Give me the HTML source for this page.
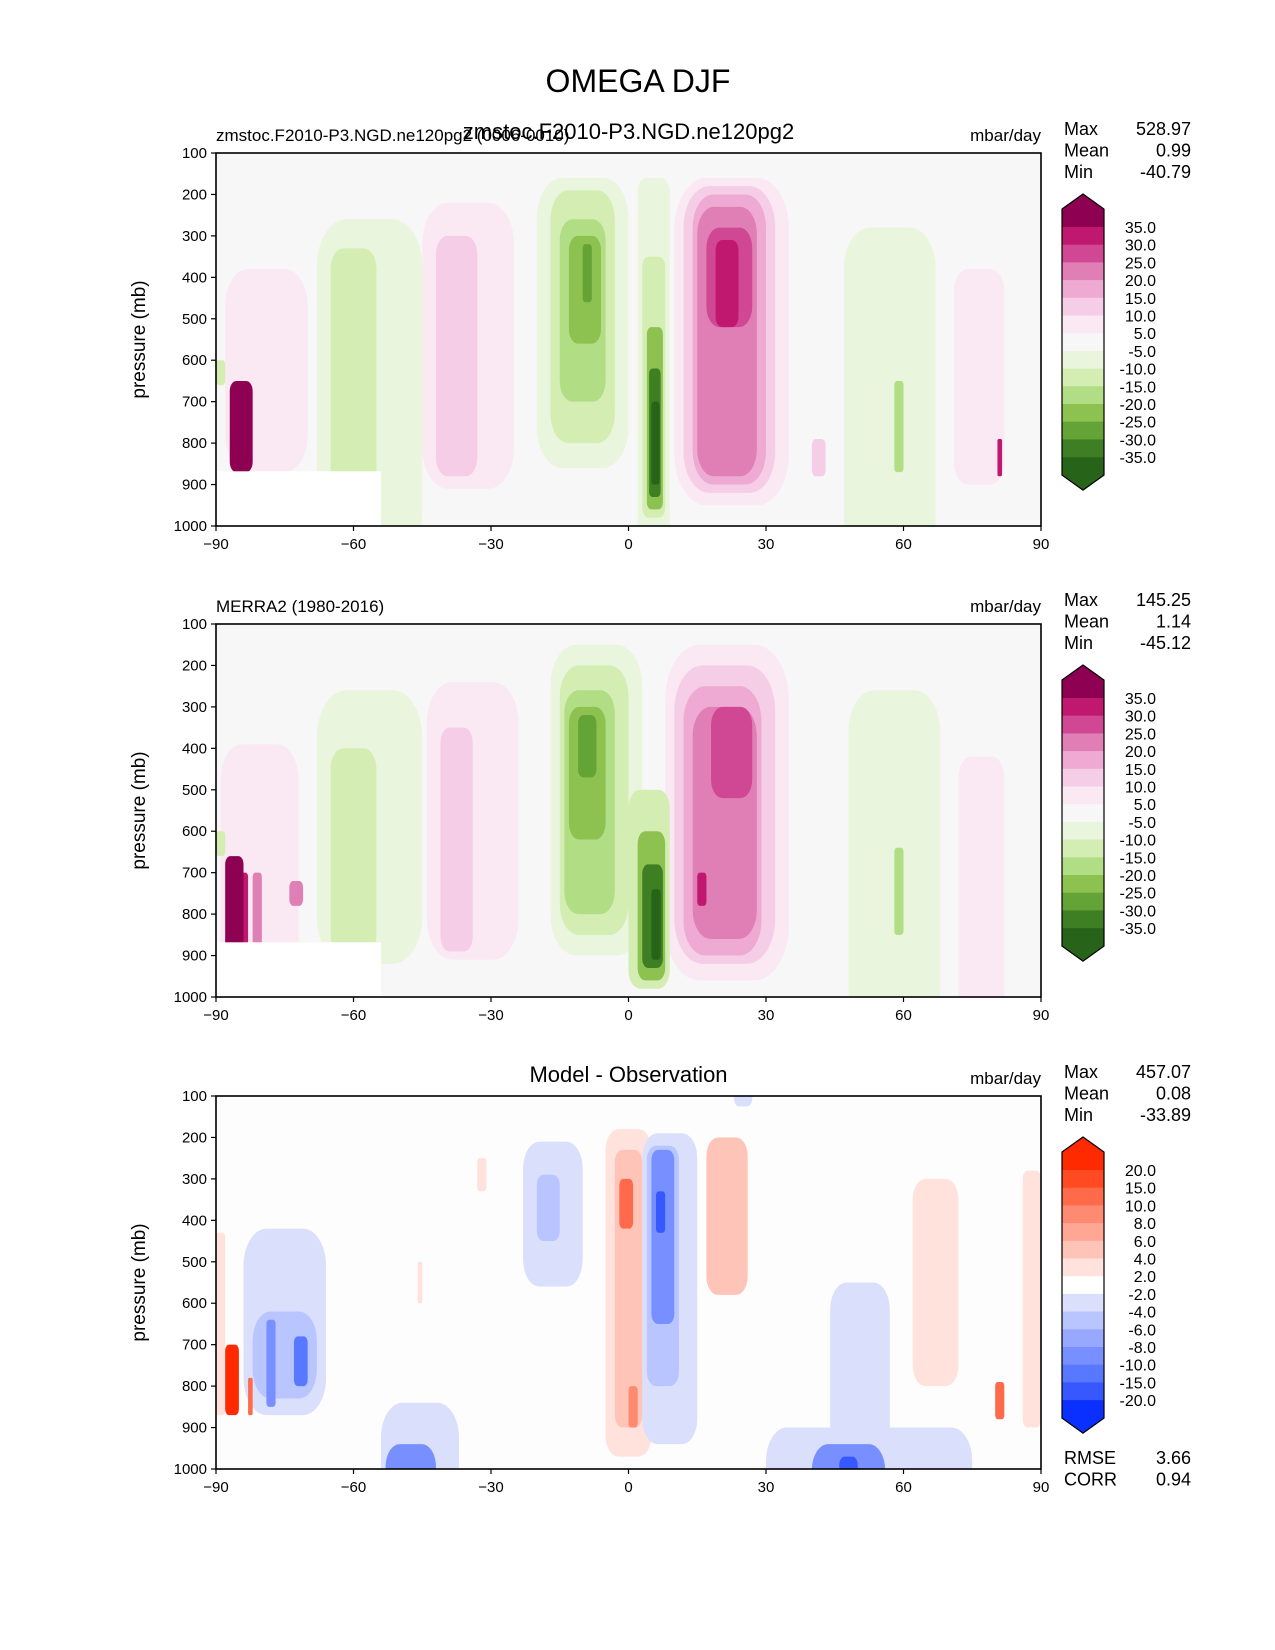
<!DOCTYPE html>
<html><head><meta charset="utf-8">
<style>
html,body{margin:0;padding:0;background:#fff;}
svg{display:block;font-family:"Liberation Sans","DejaVu Sans",sans-serif;}
</style></head>
<body>
<svg id="fig" width="1275" height="1650" viewBox="0 0 1275 1650" xmlns="http://www.w3.org/2000/svg">
<text x="638" y="92" font-size="32" text-anchor="middle">OMEGA DJF</text>
</svg>
<script>
// ---------- data ----------
const xTicks = [-90,-60,-30,0,30,60,90];
const yTicks = [100,200,300,400,500,600,700,800,900,1000];
const fieldBounds = [35,30,25,20,15,10,5,-5,-10,-15,-20,-25,-30,-35];
const fieldColors = ['#8e0152','#c0186f','#d04893','#e07fb5','#eeaad3','#f6cde6','#fae8f2','#f7f7f7','#e9f5dc','#d3edb3','#b1dd85','#8dc150','#64a336','#3e7f23','#276419'];
const diffBounds = [20,15,10,8,6,4,2,-2,-4,-6,-8,-10,-15,-20];
const diffColors = ['#ff2a00','#ff4a22','#ff6a4a','#ff8a72','#ffa694','#ffc4b8','#ffe2dc','#ffffff','#dadffc','#b9c5ff','#98a8ff','#7890ff','#5878ff','#3858ff','#0a30ff'];
// blobs: [lat0, lat1, p0, p1, value]
const modelBlobs = [
 [-88,-70,380,870,7],[-90,-88,600,660,-12],[-87,-82,650,870,40],[-85,-83,700,860,32],
 [-68,-45,260,1000,-7],[-65,-55,330,920,-12],
 [-45,-25,220,910,7],[-42,-33,300,880,12],
 [-20,0,160,860,-7],[-17,-3,190,800,-12],[-15,-5,260,700,-17],[-13,-6,300,560,-22],[-10,-8,320,460,-27],
 [2,9,160,1000,-7],[3,8,350,980,-12],[4,7.5,520,960,-22],[4.5,7,620,930,-32],[5,6.8,700,900,-40],
 [10,35,160,950,7],[12,32,180,920,12],[14,30,200,900,17],[15,28,230,880,22],[17,27,280,520,27],[19,24,310,520,32],
 [47,67,280,1000,-7],[58,60,650,870,-17],
 [71,82,380,900,7],[80.5,81.5,790,880,32],[40,43,790,880,12]
];
const obsBlobs = [
 [-89,-72,390,1000,7],[-90,-88,600,660,-12],[-88,-84,660,1000,40],[-85,-83,700,980,32],[-82,-80,700,950,22],[-74,-71,720,780,22],
 [-68,-45,260,920,-7],[-65,-55,400,900,-12],
 [-44,-24,240,910,7],[-41,-34,350,890,12],
 [-17,3,150,900,-7],[-15,0,200,850,-12],[-14,-3,260,800,-17],[-13,-5,300,620,-22],[-11,-7,320,470,-27],
 [0,9,500,980,-12],[2,8,600,960,-22],[3,7.5,680,930,-32],[5,7,740,910,-40],
 [8,35,150,960,7],[10,32,200,920,12],[12,29,250,900,17],[14,28,300,860,22],[18,27,300,520,27],[15,17,700,780,32],
 [48,68,260,1000,-7],[58,60,640,850,-17],
 [72,82,420,1000,7]
];
const diffBlobs = [
 [-90,-88,430,870,3],[-84,-66,420,870,-3],[-82,-68,620,830,-5],[-79,-77,640,850,-9],[-73,-70,680,800,-12],
 [-88,-85,700,870,25],[-83,-82,780,870,12],
 [-54,-37,840,1000,-3],[-53,-42,940,1000,-9],
 [-23,-10,210,560,-3],[-20,-15,290,450,-5],
 [-5,5,180,970,3],[-3,3,230,900,5],[-2,1,300,420,12],[0,2,800,900,9],
 [3,15,190,940,-3],[4,11,220,800,-5],[5,10,230,650,-9],[6,8,330,430,-18],
 [17,26,200,580,5],
 [30,75,900,1000,-3],[44,57,550,1000,-3],[40,56,940,1000,-9],[46,50,970,1000,-18],
 [23,27,100,125,-3],[62,72,300,800,3],[86,90,280,900,3],[80,82,790,880,12],[-33,-31,250,330,3],[-46,-45,500,600,3]
];
const panelTops = [153,624,1096];
const panelLeft = ['zmstoc.F2010-P3.NGD.ne120pg2 (0006-0010)','MERRA2 (1980-2016)',''];
const panelCenter = ['zmstoc.F2010-P3.NGD.ne120pg2','','Model - Observation'];
const statMax = ['528.97','145.25','457.07'];
const statMean = ['0.99','1.14','0.08'];
const statMin = ['-40.79','-45.12','-33.89'];

// ---------- drawing ----------
const NS='http://www.w3.org/2000/svg';
const fig=document.getElementById('fig');
function mk(tag,attrs,parent){const e=document.createElementNS(NS,tag);for(const k in attrs)e.setAttribute(k,attrs[k]);(parent||fig).appendChild(e);return e;}
const AX0=216, AX1=1041, AH=373;
function X(lat){return AX0+(lat+90)/180*(AX1-AX0);}
function Y(top,p){return top+(p-100)/900*AH;}
function colorFor(v,bounds,colors){for(let i=0;i<bounds.length;i++){if(v>bounds[i])return colors[i];}return colors[colors.length-1];}
const defs=mk('defs',{});

function drawPanel(idx,blobs,bounds,colors,bg){
  const top=panelTops[idx];
  const cp=mk('clipPath',{id:'clip'+idx},defs);
  mk('rect',{x:AX0,y:top,width:AX1-AX0,height:AH},cp);
  const g=mk('g',{});
  
  
  const bgr=mk('rect',{x:AX0,y:top,width:AX1-AX0,height:AH,fill:bg},g);
  
  
  const cg=mk('g',{'clip-path':'url(#clip'+idx+')'},g);
  const sorted=blobs.slice().sort((a,b)=>Math.abs(a[4])-Math.abs(b[4]));
  sorted.forEach(b=>{
    const p0=b[2]<=100?40:b[2], p1=b[3]>=1000?1080:b[3];
    const x0=X(b[0]),x1=X(b[1]),y0=Y(top,p0),y1=Y(top,p1);
    const w=x1-x0,h=y1-y0;
    const r=Math.min(w,h)*0.28;
    const e=mk('rect',{x:x0,y:y0,width:w,height:h,rx:r,ry:Math.min(r*1.6,h/2),fill:colorFor(b[4],bounds,colors)},cg);
    
    
  });
  if(idx<2){
    const m=mk('rect',{x:X(-90),y:Y(top,868),width:X(-54)-X(-90),height:Y(top,1000)-Y(top,868),fill:'#ffffff'},g);
    
    
  }
  const fr=mk('rect',{x:AX0,y:top,width:AX1-AX0,height:AH,fill:'none',stroke:'#000','stroke-width':1.6},g);
  
  
  yTicks.forEach(p=>{
    const y=Y(top,p);
    mk('line',{x1:AX0-5,x2:AX0,y1:y,y2:y,stroke:'#000','stroke-width':1.2},g);
    const t=mk('text',{x:AX0-9,y:y+5,'font-size':15,'text-anchor':'end'},g);
    t.textContent=p;
    
    
  });
  xTicks.forEach(l=>{
    const x=X(l);
    mk('line',{x1:x,x2:x,y1:top+AH,y2:top+AH+5,stroke:'#000','stroke-width':1.2},g);
    const t=mk('text',{x:x,y:top+AH+23,'font-size':15,'text-anchor':'middle'},g);
    t.textContent=String(l).replace('-','\u2212');
    
    
  });
  const yl=mk('text',{x:0,y:0,'font-size':19,'text-anchor':'middle',transform:'translate(145,'+(top+AH/2)+') rotate(-90)'},g);
  yl.textContent='pressure (mb)';
  
  
  if(panelLeft[idx]){
    const t=mk('text',{x:AX0,y:top-12,'font-size':17},g);t.textContent=panelLeft[idx];
    
    
  }
  if(panelCenter[idx]){
    const t=mk('text',{x:(AX0+AX1)/2,y:top-14,'font-size':22,'text-anchor':'middle'},g);t.textContent=panelCenter[idx];
    
    
  }
  const u=mk('text',{x:AX1,y:top-12,'font-size':17,'text-anchor':'end'},g);u.textContent='mbar/day';
  
  
  const labs=['Max','Mean','Min'],vals=[statMax[idx],statMean[idx],statMin[idx]];
  for(let i=0;i<3;i++){
    const a=mk('text',{x:1064,y:top-18+i*21.5,'font-size':18},g);a.textContent=labs[i];
    
    
    const b=mk('text',{x:1191,y:top-18+i*21.5,'font-size':18,'text-anchor':'end'},g);b.textContent=vals[i];
    
    
  }
  const cb=mk('g',{},g);
  
  
  const off=top-153, cx0=1062, cx1=1104, step=17.7;
  const b0=227+off;
  const tipT=194+off, baseT=209+off, baseB=b0+(bounds.length-1)*step+18, tipB=baseB+15;
  mk('polygon',{points:`${cx0},${baseT} ${(cx0+cx1)/2},${tipT} ${cx1},${baseT} ${cx1},${b0} ${cx0},${b0}`,fill:colors[0]},cb);
  for(let i=0;i<bounds.length-1;i++){
    mk('rect',{x:cx0,y:b0+i*step,width:cx1-cx0,height:step+0.5,fill:colors[i+1]},cb);
  }
  const bl=b0+(bounds.length-1)*step;
  mk('polygon',{points:`${cx0},${bl} ${cx1},${bl} ${cx1},${baseB} ${(cx0+cx1)/2},${tipB} ${cx0},${baseB}`,fill:colors[colors.length-1]},cb);
  mk('polygon',{points:`${cx0},${baseT} ${(cx0+cx1)/2},${tipT} ${cx1},${baseT} ${cx1},${baseB} ${(cx0+cx1)/2},${tipB} ${cx0},${baseB}`,fill:'none',stroke:'#000','stroke-width':1.2},cb);
  bounds.forEach((v,i)=>{
    const t=mk('text',{x:1156,y:b0+i*step+6,'font-size':16,'text-anchor':'end'},cb);
    t.textContent=v.toFixed(1);
    
    
  });
}
drawPanel(0,modelBlobs,fieldBounds,fieldColors,'#f7f7f7');
drawPanel(1,obsBlobs,fieldBounds,fieldColors,'#f7f7f7');
drawPanel(2,diffBlobs,diffBounds,diffColors,'#fdfdfd');
const rs=[['RMSE','3.66'],['CORR','0.94']];
rs.forEach((r,i)=>{
  const a=mk('text',{x:1064,y:1464+i*21.5,'font-size':18});a.textContent=r[0];
  
  
  const b=mk('text',{x:1191,y:1464+i*21.5,'font-size':18,'text-anchor':'end'});b.textContent=r[1];
  
  
});
</script>
</body></html>
